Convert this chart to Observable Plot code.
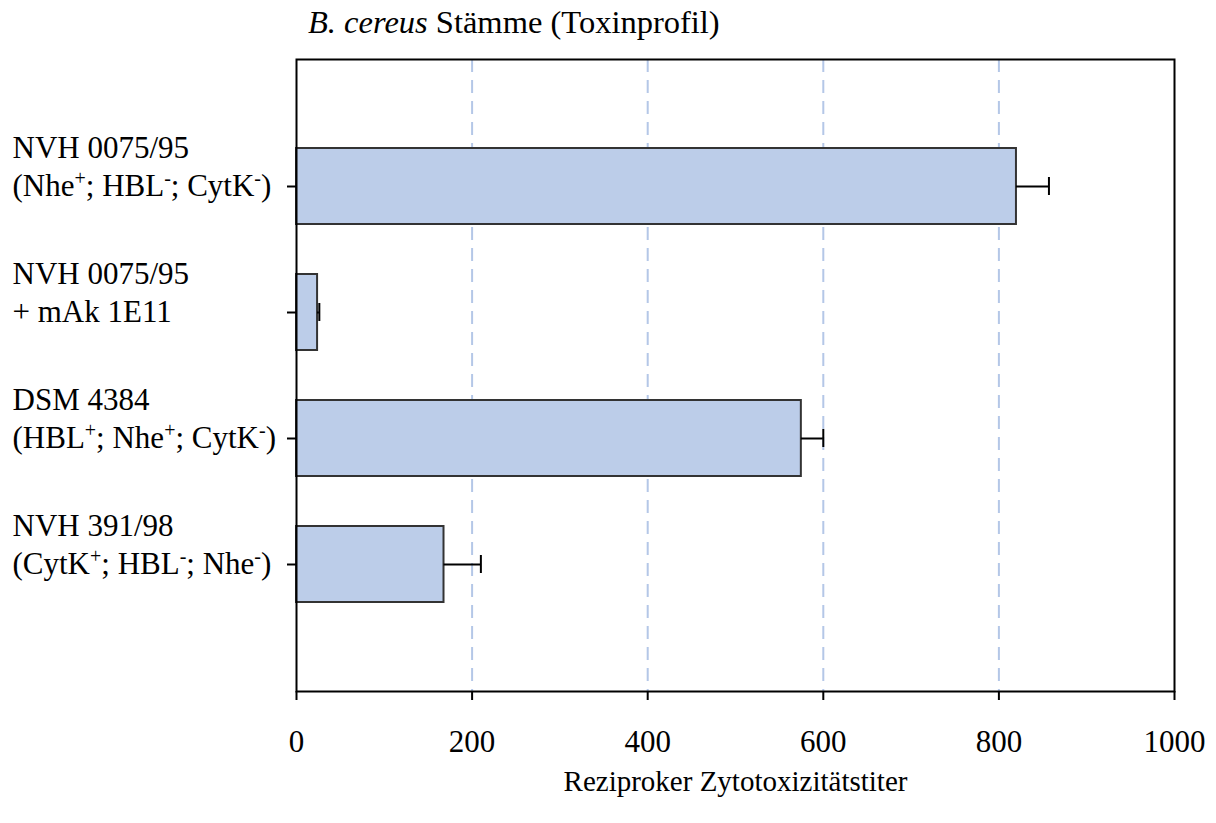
<!DOCTYPE html>
<html>
<head>
<meta charset="utf-8">
<script src="https://cdn.jsdelivr.net/npm/d3@7"></script>
<script src="https://cdn.jsdelivr.net/npm/@observablehq/plot@0.6"></script>
<style>
  body { margin: 0; background: #fff; }
  #wrap { position: relative; width: 1216px; height: 823px; }
  #title { position: absolute; left: 308px; top: 6px; font: 32.5px "Liberation Serif", serif; line-height: 1; white-space: nowrap; }
</style>
</head>
<body>
<div id="wrap">
  <div id="title"><i>B. cereus</i> Stämme (Toxinprofil)</div>
</div>
<script>
// Data
const strains = ["NVH 0075/95", "NVH 0075/95", "DSM 4384", "NVH 391/98"];
const profiles = ["(Nhe^+; HBL^-; CytK^-)", "+ mAk 1E11", "(HBL^+; Nhe^+; CytK^-)", "(CytK^+; HBL^-; Nhe^-)"];
const titers = [820, 24, 575, 168];
const errors = [37, 2, 25, 42];
const xTicks = [0, 200, 400, 600, 800, 1000];
const gridValues = [200, 400, 600, 800];
const xLabel = "Reziproker Zytotoxizitätstiter";

const data = strains.map((s, i) => ({
  label: s + "\n" + profiles[i],
  value: titers[i],
  err: errors[i]
}));

const chart = Plot.plot({
  width: 1216,
  height: 823,
  marginLeft: 296,
  marginRight: 42,
  marginTop: 59,
  marginBottom: 132,
  style: { fontFamily: "Liberation Serif, serif", fontSize: "31px", background: "white", color: "black" },
  x: { domain: [0, 1000] },
  y: { type: "band", domain: data.map(d => d.label), paddingInner: 0.4, paddingOuter: 0.7 },
  marks: [
    Plot.gridX(gridValues, { stroke: "#b4c7e7", strokeOpacity: 1, strokeWidth: 2, strokeDasharray: "13,8" }),
    Plot.barX(data, { x: "value", y: "label", fill: "#bccde9", stroke: "#333333", strokeWidth: 2 }),
    Plot.ruleY(data, { x1: "value", x2: d => d.value + d.err, y: "label", stroke: "black", strokeWidth: 2 }),
    Plot.tickX(data, { x: d => d.value + d.err, y: "label", stroke: "black", strokeWidth: 2, insetTop: 29, insetBottom: 29 }),
    Plot.frame({ stroke: "black", strokeWidth: 2 }),
    Plot.axisX({ ticks: xTicks, tickSize: 9, tickPadding: 29, tickFormat: d => String(d), label: null, fontSize: 31, strokeWidth: 2 }),
    Plot.axisY({ tickSize: 9, tickFormat: () => "", label: null, strokeWidth: 2 }),
    Plot.text(data, { y: "label", text: "label", frameAnchor: "left", dx: -284, dy: -22, textAnchor: "start", lineHeight: 1.22, fontSize: 31, fill: "black" }),
    Plot.text([xLabel], { text: d => d, frameAnchor: "bottom", dy: 99, fontSize: 29, fill: "black" })
  ]
});

// Superscript markup (^+ / ^-) -> tspans with baseline shift
chart.querySelectorAll("tspan, text").forEach(el => {
  if (el.children.length > 0) return;
  const t = el.textContent;
  if (!t.includes("^")) return;
  el.textContent = "";
  const parts = t.split(/\^([+-])/);
  parts.forEach((p, i) => {
    if (p === "") return;
    const ts = document.createElementNS("http://www.w3.org/2000/svg", "tspan");
    ts.textContent = p;
    if (i % 2 === 1) {
      ts.setAttribute("baseline-shift", "super");
      ts.setAttribute("font-size", "20");
    }
    el.appendChild(ts);
  });
});

chart.style.position = "absolute";
chart.style.left = "0";
chart.style.top = "0";
document.getElementById("wrap").insertBefore(chart, document.getElementById("title"));
</script>
</body>
</html>
